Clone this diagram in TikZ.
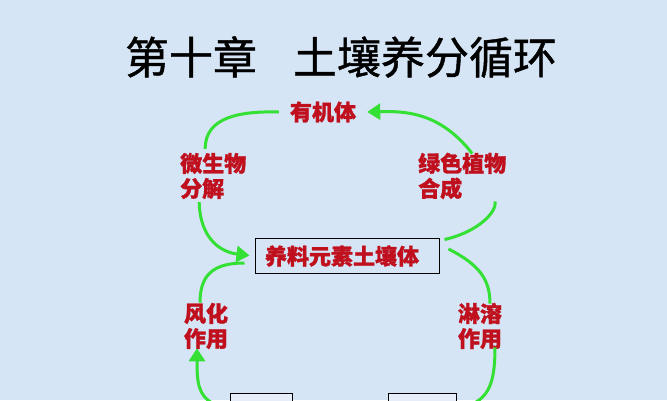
\documentclass[tikz,border=0pt]{standalone}
\usepackage{fontspec}
\newfontfamily\cjk[FakeBold=1.2]{Noto Sans CJK SC}
\newfontfamily\cjktitle[FakeBold=1.0]{Noto Sans CJK SC}
\usetikzlibrary{arrows.meta}
\definecolor{bg}{HTML}{D5E5F5}
\definecolor{lblred}{HTML}{C0101E}
\definecolor{arrgreen}{HTML}{33E033}
\tikzset{
  lbl/.style={text=lblred, font=\cjk\bfseries\fontsize{22}{25}\selectfont, align=left, inner sep=1pt},
  boxnode/.style={draw=black, line width=1pt, inner sep=0pt},
  gline/.style={draw=arrgreen, line width=3pt},
  garrow/.style={gline, -{Triangle[length=13pt,width=16pt]}},
}
\begin{document}
\begin{tikzpicture}[x=1pt,y=-1pt]
\useasboundingbox (0,0) rectangle (667,400);
\clip (0,0) rectangle (667,400);
\fill[bg] (0,0) rectangle (667,400);

\node (title) at (341,57) {\cjktitle\fontsize{44}{48}\selectfont 第十章\hspace{36pt}土壤养分循环};

\node[lbl] (org) at (323,112) {有机体};
\node[lbl, anchor=west] (micro) at (179,176) {微生物\\分解};
\node[lbl, anchor=west] (plant) at (417,176) {绿色植物\\合成};
\node[boxnode, minimum width=184pt, minimum height=35pt] (soil) at (347,255.5) {};
\node[lbl] (soiltxt) at (342,256) {养料元素土壤体};
\node[lbl] (wea) at (206,326) {风化\\作用};
\node[lbl] (leach) at (480,326) {淋溶\\作用};
\node[boxnode, fill=white!40!bg, minimum width=62pt, minimum height=40pt] (b1) at (261,413) {};
\node[boxnode, fill=white!40!bg, minimum width=68pt, minimum height=40pt] (b2) at (422,413) {};

\coordinate (wstart) at (214,404);
\coordinate (lend) at (468,406);

% upper left
\draw[gline] ([xshift=-8pt,yshift=3pt]micro.north) .. controls (205,117) and (240,111) .. ([xshift=-10pt]org.west);
\draw[garrow] ([xshift=-14pt,yshift=-2pt]micro.south) .. controls (200,238) and (220,252) .. ([xshift=-5pt]soil.west);
% upper right
\draw[gline] ([xshift=5pt,yshift=-2pt]soil.north east) .. controls (478,232) and (497,212) .. ([xshift=33pt,yshift=-1pt]plant.south);
\draw[garrow] ([xshift=10pt,yshift=-2pt]plant.north) .. controls (440,112) and (405,111) .. ([xshift=10pt]org.east);
% lower left
\draw[gline] ([xshift=-10pt,yshift=-7.5pt]soil.west) .. controls (213,263) and (200,275) .. ([xshift=-6pt,yshift=-1pt]wea.north);
\draw[garrow] (wstart) .. controls (198,396) and (197,382) .. ([xshift=-9pt,yshift=2pt]wea.south);
% lower right
\draw[gline] ([xshift=9pt,yshift=6.5pt]soil.east) .. controls (480,265) and (490,280) .. ([xshift=10pt,yshift=-2pt]leach.north);
\draw[gline] ([xshift=15pt,yshift=3pt]leach.south) .. controls (495,385) and (488,398) .. (lend);
\end{tikzpicture}
\end{document}
